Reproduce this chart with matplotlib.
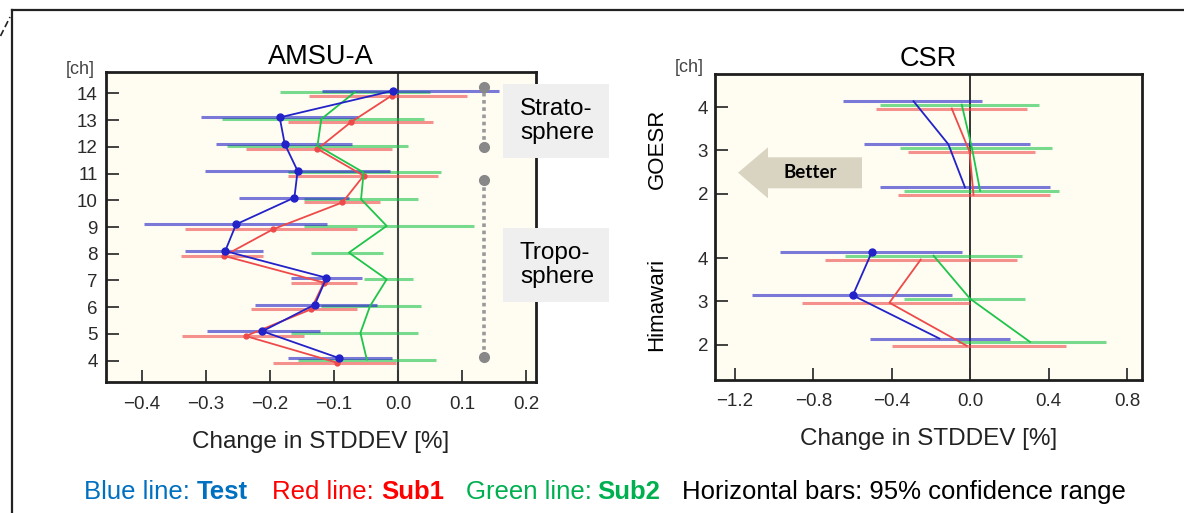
import matplotlib.pyplot as plt
from matplotlib.patches import Polygon, Rectangle
from matplotlib.lines import Line2D

plt.rcParams['font.family'] = ['Liberation Sans', 'DejaVu Sans']

W, H = 1184, 513

# AMSU-A, channels 4..14
amsu_ch = [4, 5, 6, 7, 8, 9, 10, 11, 12, 13, 14]
amsu_test = [-0.093, -0.212, -0.130, -0.112, -0.270, -0.253, -0.162, -0.157, -0.177, -0.185, -0.008]
amsu_test_lo = [-0.172, -0.298, -0.224, -0.167, -0.332, -0.396, -0.249, -0.301, -0.284, -0.308, -0.119]
amsu_test_hi = [-0.010, -0.122, -0.033, -0.057, -0.211, -0.111, -0.077, -0.013, -0.072, -0.062, 0.158]
amsu_sub1 = [-0.095, -0.238, -0.136, -0.116, -0.272, -0.195, -0.087, -0.054, -0.126, -0.074, -0.010]
amsu_sub1_lo = [-0.195, -0.338, -0.229, -0.167, -0.339, -0.332, -0.147, -0.172, -0.237, -0.172, -0.139]
amsu_sub1_hi = [-0.003, -0.147, -0.064, -0.064, -0.211, -0.064, -0.028, 0.062, -0.010, 0.054, 0.108]
amsu_sub2 = [-0.049, -0.059, -0.044, -0.018, -0.077, -0.018, -0.058, -0.054, -0.126, -0.120, -0.068]
amsu_sub2_lo = [-0.157, -0.167, -0.121, -0.054, -0.136, -0.147, -0.147, -0.172, -0.267, -0.275, -0.184]
amsu_sub2_hi = [0.059, 0.031, 0.036, 0.023, -0.024, 0.118, 0.031, 0.067, 0.015, 0.041, 0.049]
layer_names = ['Strato-\nsphere', 'Tropo-\nsphere']
layer_spans = [(12.0, 14.25), (4.12, 10.77)]

# CSR: Himawari ch2-4, then GOESR ch2-4
csr_pos = [0, 1, 2, 3.5, 4.5, 5.5]
csr_ch = ['2', '3', '4', '2', '3', '4']
csr_sat = ['Himawari', 'GOESR']
csr_test = [-0.157, -0.599, -0.502, -0.026, -0.111, -0.289]
csr_test_lo = [-0.511, -1.115, -0.970, -0.460, -0.541, -0.650]
csr_test_hi = [0.204, -0.094, -0.043, 0.409, 0.303, 0.060]
csr_sub1 = [-0.017, -0.412, -0.252, 0.017, -0.003, -0.094]
csr_sub1_lo = [-0.400, -0.860, -0.740, -0.366, -0.315, -0.480]
csr_sub1_hi = [0.490, 0.000, 0.238, 0.409, 0.332, 0.289]
csr_sub2 = [0.306, 0.000, -0.187, 0.051, 0.009, -0.043]
csr_sub2_lo = [-0.060, -0.340, -0.638, -0.340, -0.357, -0.460]
csr_sub2_hi = [0.694, 0.281, 0.264, 0.451, 0.417, 0.349]

BLUE, RED, GREEN = '#2222c8', '#ee4a4a', '#1fc44a'


def fx(x):
    return x / W


def fy(y):
    return 1 - y / H


def series(ax, pos, mean, lo, hi, color, dy, groups, ms=0, mark=None):
    for g in groups:
        ys = [p + dy for p in pos[g]]
        ax.hlines(ys, lo[g], hi[g], colors=color, lw=2.2, alpha=0.6, zorder=2)
        ax.plot(mean[g], ys, color=color, lw=1.3, marker='o' if ms else None,
                ms=ms, markevery=mark, zorder=3)


def style_axes(ax, xlim, ylim, xticks, yticks, ylabels, ypad):
    ax.set_facecolor('#fffdf2')
    ax.set_xlim(*xlim)
    ax.set_ylim(*ylim)
    ax.set_xticks(xticks)
    ax.set_xticklabels([f'{v:.1f}'.replace('-', '\u2212') for v in xticks])
    ax.set_yticks(yticks)
    ax.set_yticklabels(ylabels)
    ax.tick_params(direction='in', length=9, width=1.3, color='#333333',
                   labelcolor='#2a2a2a', labelsize=13.5)
    ax.tick_params(axis='y', pad=ypad)
    ax.tick_params(axis='x', pad=10)
    for s in ax.spines.values():
        s.set_linewidth(2.0)
        s.set_color('#1e1e1e')
    ax.set_xlabel('Change in STDDEV [%]', fontsize=17.5, color='#222222', labelpad=13)


fig = plt.figure(figsize=(W / 100, H / 100), dpi=100)

# left panel
ax1 = fig.add_axes([fx(106), fy(382), (536 - 106) / W, (382 - 72) / H])
style_axes(ax1, (-0.456, 0.215), (3.2, 14.8), [-0.4, -0.3, -0.2, -0.1, 0.0, 0.1, 0.2],
           amsu_ch, [str(c) for c in amsu_ch], 6)
ax1.axvline(0, color='#444444', lw=1.5, zorder=1)
all1 = [slice(0, len(amsu_ch))]
series(ax1, amsu_ch, amsu_sub1, amsu_sub1_lo, amsu_sub1_hi, RED, -0.08, all1, ms=3.5)
series(ax1, amsu_ch, amsu_sub2, amsu_sub2_lo, amsu_sub2_hi, GREEN, 0.04, all1)
series(ax1, amsu_ch, amsu_test, amsu_test_lo, amsu_test_hi, BLUE, 0.10, all1, ms=5)
ax1.set_title('AMSU-A', fontsize=19.5, pad=6)
for y0, y1 in layer_spans:
    ax1.plot([0.134, 0.134], [y0, y1], ls=(0, (1, 1)), lw=2.6, color='#999999',
             marker='o', ms=7, mfc='#888888', mec='#888888', zorder=4)

# right panel
ax2 = fig.add_axes([fx(715), fy(379.5), (1142 - 715) / W, (379.5 - 74) / H])
style_axes(ax2, (-1.302, 0.877), (-0.81, 6.27), [-1.2, -0.8, -0.4, 0.0, 0.4, 0.8],
           csr_pos, csr_ch, 5)
ax2.axvline(0, color='#111111', lw=1.2, zorder=1)
grp = [slice(0, 3), slice(3, 6)]
series(ax2, csr_pos, csr_sub1, csr_sub1_lo, csr_sub1_hi, RED, -0.03, grp)
series(ax2, csr_pos, csr_sub2, csr_sub2_lo, csr_sub2_hi, GREEN, 0.06, grp)
series(ax2, csr_pos, csr_test, csr_test_lo, csr_test_hi, BLUE, 0.14, grp[:1], ms=5, mark=[1, 2])
series(ax2, csr_pos, csr_test, csr_test_lo, csr_test_hi, BLUE, 0.14, grp[1:])
ax2.set_title('CSR', fontsize=19.5, pad=6)

# positional labels
fig.text(fx(80), fy(69), '[ch]', fontsize=13, color='#444444', ha='center', va='center')
fig.text(fx(689), fy(68), '[ch]', fontsize=13, color='#444444', ha='center', va='center')
fig.text(fx(657), fy(304), csr_sat[0], fontsize=16, rotation=90, ha='center', va='center')
fig.text(fx(657), fy(149), csr_sat[1], fontsize=16, rotation=90, ha='center', va='center')

# strato / tropo boxes
for (yt, yb), name in zip([(84, 157.7), (228, 301.7)], layer_names):
    fig.add_artist(Rectangle((fx(503), fy(yb)), (609 - 503) / W, (yb - yt) / H,
                             transform=fig.transFigure, facecolor='#efefef',
                             edgecolor='none', zorder=5))
    fig.text(fx(520), fy((yt + yb) / 2), name, fontsize=17.5, ha='left', va='center',
             linespacing=1.15, zorder=6)

# better arrow
arrow = [(738, 172.7), (768, 147.3), (768, 157.3), (862, 157.3), (862, 188.3),
         (768, 188.3), (768, 198.3)]
fig.add_artist(Polygon([(fx(a), fy(b)) for a, b in arrow], closed=True,
                       transform=fig.transFigure, facecolor='#d9d4c1',
                       edgecolor='none', zorder=5))
fig.text(fx(810), fy(173), 'Better', family=['Lato', 'DejaVu Sans'], fontweight='bold',
         fontsize=13.5, ha='center', va='center', zorder=6)

# bottom caption
caption = [(84, 'Blue line: ', '#0070c0', 'normal'), (197, 'Test', '#0070c0', 'bold'),
           (272, 'Red line: ', '#ff0000', 'normal'), (381, 'Sub1', '#ff0000', 'bold'),
           (465.5, 'Green line: ', '#00b050', 'normal'), (597, 'Sub2', '#00b050', 'bold'),
           (682, 'Horizontal bars: 95% confidence range', 'black', 'normal')]
for x, s, c, w in caption:
    fig.text(fx(x), fy(499), s, color=c, fontweight=w, fontsize=18.5, ha='left', va='baseline')

# outer frame
fig.add_artist(Line2D([fx(12), 1], [fy(10), fy(10)], transform=fig.transFigure,
                      color='#222222', lw=1.6))
fig.add_artist(Line2D([fx(12), fx(12)], [fy(10), 0], transform=fig.transFigure,
                      color='#222222', lw=1.6))
fig.add_artist(Line2D([fx(0.5), fx(10)], [fy(36), fy(17)], transform=fig.transFigure,
                      color='#222222', lw=1.2, ls=(0, (4, 2))))

fig.savefig('out.png', dpi=100)
